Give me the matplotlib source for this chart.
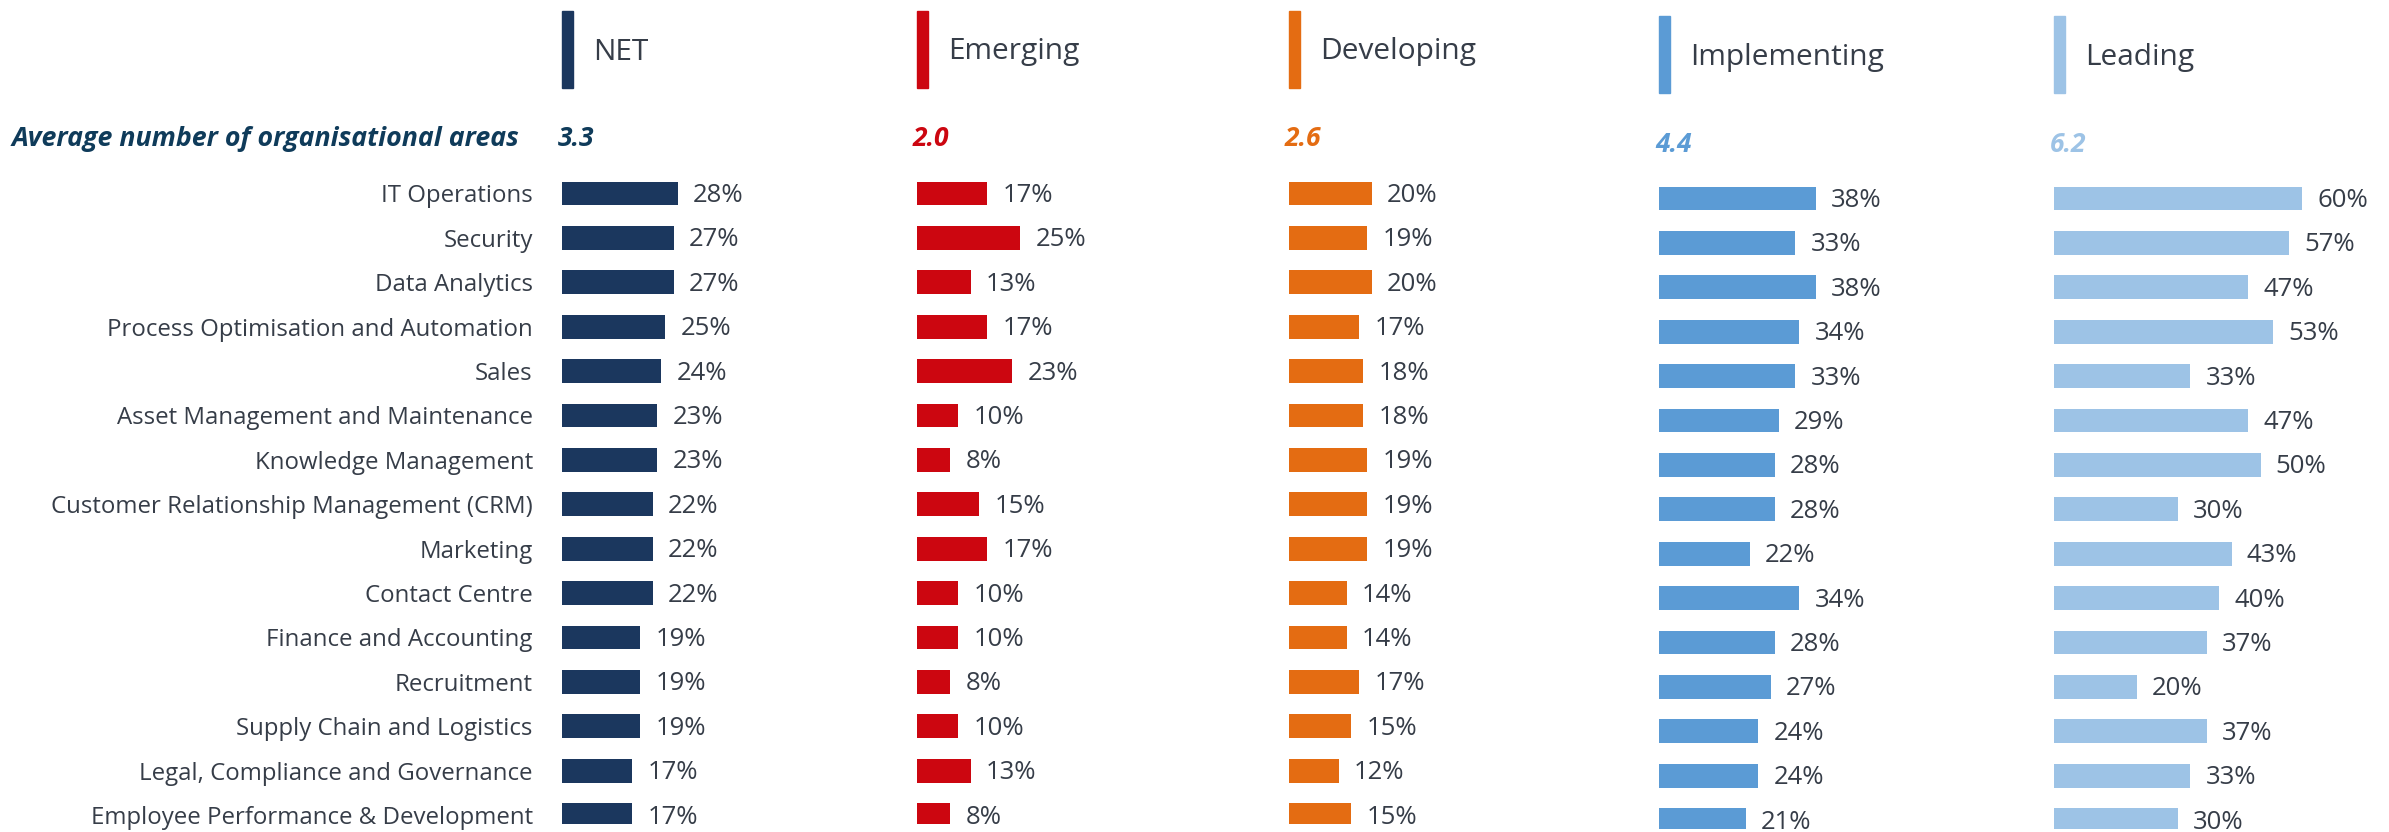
import matplotlib.pyplot as plt
import numpy as np

plt.rcParams['font.family'] = ['Open Sans', 'DejaVu Sans']

categories = ['IT Operations', 'Security', 'Data Analytics',
              'Process Optimisation and Automation', 'Sales',
              'Asset Management and Maintenance', 'Knowledge Management',
              'Customer Relationship Management (CRM)', 'Marketing',
              'Contact Centre', 'Finance and Accounting', 'Recruitment',
              'Supply Chain and Logistics', 'Legal, Compliance and Governance',
              'Employee Performance & Development']

groups = ['NET', 'Emerging', 'Developing', 'Implementing', 'Leading']
averages = [3.3, 2.0, 2.6, 4.4, 6.2]

net = [28, 27, 27, 25, 24, 23, 23, 22, 22, 22, 19, 19, 19, 17, 17]
emerging = [17, 25, 13, 17, 23, 10, 8, 15, 17, 10, 10, 8, 10, 13, 8]
developing = [20, 19, 20, 17, 18, 18, 19, 19, 19, 14, 14, 17, 15, 12, 15]
implementing = [38, 33, 38, 34, 33, 29, 28, 28, 22, 34, 28, 27, 24, 24, 21]
leading = [60, 57, 47, 53, 33, 47, 50, 30, 43, 40, 37, 20, 37, 33, 30]
series = [net, emerging, developing, implementing, leading]

colors = ['#1b375e', '#cc0610', '#e46c12', '#5b9bd5', '#9dc3e6']
text_col = '#363d48'
title_col = '#0f3b5a'

W, H = 2389, 832
fig = plt.figure(figsize=(W / 100, H / 100), dpi=100)

# layout in pixels
col_x = [562, 917, 1289, 1659, 2054]
col_dy = [0, 0, 0, 5, 5]
px_per_pct = 4.13
xmax = 80
row0 = 193.5
row_step = 44.4
n = len(categories)


def rect(x0, y0, w, h):
    return [x0 / W, 1 - (y0 + h) / H, w / W, h / H]


for k, (name, vals, c) in enumerate(zip(groups, series, colors)):
    top = row0 + col_dy[k] - 0.5 * row_step
    bottom = row0 + col_dy[k] + (n - 1 + 0.2) * row_step
    ax = fig.add_axes(rect(col_x[k], top, xmax * px_per_pct, bottom - top))
    ax.patch.set_alpha(0)
    y = np.arange(n)
    ax.barh(y, vals, height=0.54, color=c)
    ax.set_xlim(0, xmax)
    ax.set_ylim(n - 1 + 0.2, -0.5)
    for s in ax.spines.values():
        s.set_visible(False)
    ax.set_xticks([])
    if k == 0:
        ax.set_yticks(y)
        ax.set_yticklabels(categories, fontsize=17.3, color=text_col)
        ax.tick_params(axis='y', length=0, pad=21)
    else:
        ax.set_yticks([])
    for yi, v in zip(y, vals):
        ax.annotate(f'{v}%', (v, yi), xytext=(11, -1.5), textcoords='offset points',
                    ha='left', va='center', fontsize=18.5, color=text_col)

    # legend header
    ly = col_dy[k]
    fig.patches.append(plt.Rectangle(((col_x[k]) / W, 1 - (88 + ly) / H),
                                     11 / W, 77 / H, transform=fig.transFigure,
                                     color=c, zorder=3))
    fig.text((col_x[k] + 31) / W, 1 - (52 + ly) / H, name, fontsize=21.5,
             color=text_col, va='center', ha='left')

    # average number
    acol = title_col if k == 0 else c
    fig.text((col_x[k] - 4) / W, 1 - (139 + ly) / H, f'{averages[k]:.1f}',
             fontsize=19, fontweight='bold', fontstyle='italic', color=acol,
             va='center', ha='left')

fig.text(12 / W, 1 - 139 / H, 'Average number of organisational areas',
         fontsize=19.3, fontweight='bold', fontstyle='italic', color=title_col,
         va='center', ha='left')

fig.savefig('out.png', dpi=100, facecolor='white')
